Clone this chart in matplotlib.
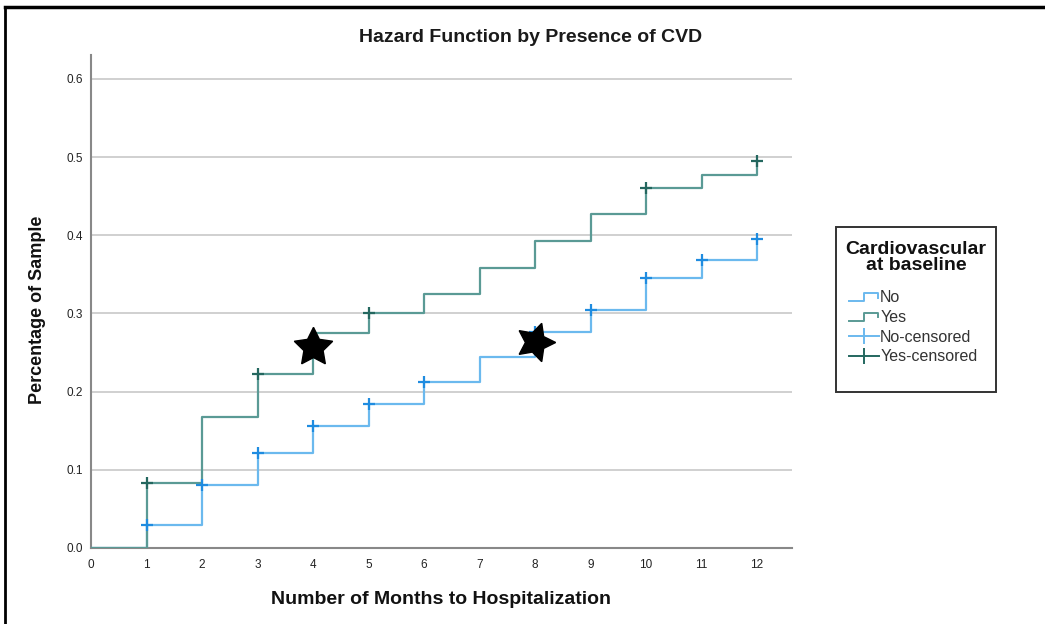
import matplotlib
matplotlib.use("Agg")
import matplotlib.pyplot as plt
from matplotlib.lines import Line2D
from matplotlib.patches import Rectangle
from matplotlib.legend_handler import HandlerBase

# ---- data ----
months = [0, 1, 2, 3, 4, 5, 6, 7, 8, 9, 10, 11, 12]
hazard_no = [0.0, 0.030, 0.081, 0.122, 0.156, 0.184, 0.213, 0.244, 0.276, 0.305, 0.345, 0.369, 0.395]
hazard_yes = [0.0, 0.083, 0.168, 0.223, 0.275, 0.300, 0.325, 0.358, 0.393, 0.427, 0.461, 0.477, 0.495]
censored_no = [1, 2, 3, 4, 5, 6, 8, 9, 10, 11, 12]
censored_yes = [1, 3, 5, 10, 12]
star_x = [4, 8]
star_y = [0.257, 0.263]
y_ticks = [0.0, 0.1, 0.2, 0.3, 0.4, 0.5, 0.6]
legend_labels = ["No", "Yes", "No-censored", "Yes-censored"]

c_no_line = "#6bb9ee"
c_no_mark = "#1f8ce0"
c_yes_line = "#5a9a95"
c_yes_mark = "#24675f"

plt.rcParams['font.family'] = ['Liberation Sans', 'DejaVu Sans']

W, H = 1045, 624
fig = plt.figure(figsize=(W/100, H/100), dpi=100)
ax = fig.add_axes([91/W, 1-548/H, (792-91)/W, (548-55)/H])

ax.set_xlim(0, 12.63)
ax.set_ylim(0, 0.6307)

ax.set_yticks(y_ticks)
ax.set_yticklabels([f"{v:.1f}" for v in y_ticks])
ax.set_xticks(months)
ax.set_xticklabels([str(m) for m in months])
ax.tick_params(axis='both', length=0, labelsize=8.5, colors='#222222')
ax.tick_params(axis='x', pad=8)
ax.tick_params(axis='y', pad=6)
ax.grid(axis='y', color='#c8c8c8', lw=1.2)
ax.set_axisbelow(True)
for s in ['top', 'right']:
    ax.spines[s].set_visible(False)
for s in ['left', 'bottom']:
    ax.spines[s].set_color('#888888')
    ax.spines[s].set_linewidth(1.5)

ax.step(months, hazard_no, where='post', color=c_no_line, lw=1.6, zorder=3)
ax.step(months, hazard_yes, where='post', color=c_yes_line, lw=1.6, zorder=4)
ax.plot(censored_no, [hazard_no[m] for m in censored_no], ls='none', marker='+',
        ms=8, mew=1.6, color=c_no_mark, zorder=5)
ax.plot(censored_yes, [hazard_yes[m] for m in censored_yes], ls='none', marker='+',
        ms=8, mew=1.6, color=c_yes_mark, zorder=5)

ax.plot(star_x[:1], star_y[:1], ls='none', marker=(5, 1, 0), ms=29, color='black', zorder=6)
ax.plot(star_x[1:], star_y[1:], ls='none', marker=(5, 1, -18), ms=29, color='black', zorder=6)

fig.text(531/W, 1-37/H, "Hazard Function by Presence of CVD", fontsize=14, fontweight='bold',
         ha='center', va='center', color='#1a1a1a')
fig.text(441/W, 1-600/H, "Number of Months to Hospitalization", fontsize=14, fontweight='bold',
         ha='center', va='center', color='#111111')
fig.text(38/W, 1-310/H, "Percentage of Sample", fontsize=13, fontweight='bold', rotation=90,
         ha='center', va='center', color='#111111')


class StepHandler(HandlerBase):
    def create_artists(self, legend, orig_handle, xdescent, ydescent, width, height, fontsize, trans):
        x0 = -xdescent
        y0 = -ydescent
        xs = [x0, x0 + 0.5*width, x0 + 0.5*width, x0 + 0.95*width, x0 + 0.95*width]
        ys = [y0 + 0.1*height, y0 + 0.1*height, y0 + 0.8*height, y0 + 0.8*height, y0 + 0.4*height]
        l = Line2D(xs, ys, color=orig_handle.get_color(), lw=1.4, transform=trans)
        return [l]


h_no = Line2D([], [], color=c_no_line)
h_yes = Line2D([], [], color=c_yes_line)
h_nc = Line2D([], [], color=c_no_line, marker='|', ms=12, mew=1.4, lw=1.4)
h_yc = Line2D([], [], color=c_yes_mark, marker='|', ms=12, mew=1.4, lw=1.4)

# legend frame and title drawn separately
fig.add_artist(Rectangle((836/W, 1-392/H), 160/W, 165/H, transform=fig.transFigure,
                         facecolor='white', edgecolor='#333333', lw=1.4, zorder=1))
fig.text(916/W, 1-257.5/H, "Cardiovascular\nat baseline", fontsize=14, fontweight='bold',
         ha='center', va='center', multialignment='center', linespacing=1.0,
         color='#111111', zorder=3)

leg = fig.legend([h_no, h_yes, h_nc, h_yc], legend_labels,
                 handler_map={h_no: StepHandler(), h_yes: StepHandler()},
                 loc='upper left', bbox_to_anchor=(849/W, 1-290/H),
                 frameon=False,
                 fontsize=11.5, handlelength=1.9, handletextpad=0.05, labelspacing=0.3,
                 borderpad=0.0, borderaxespad=0.0)
leg.set_zorder(2)
for t in leg.get_texts():
    t.set_color('#333333')

# outer frame lines (left and top)
fig.add_artist(Line2D([5/W, 5/W], [0, 1-7/H], color='black', lw=2, transform=fig.transFigure))
fig.add_artist(Line2D([5/W, 1], [1-7/H, 1-7/H], color='black', lw=2.5, transform=fig.transFigure))

fig.savefig("out.png", dpi=100)
